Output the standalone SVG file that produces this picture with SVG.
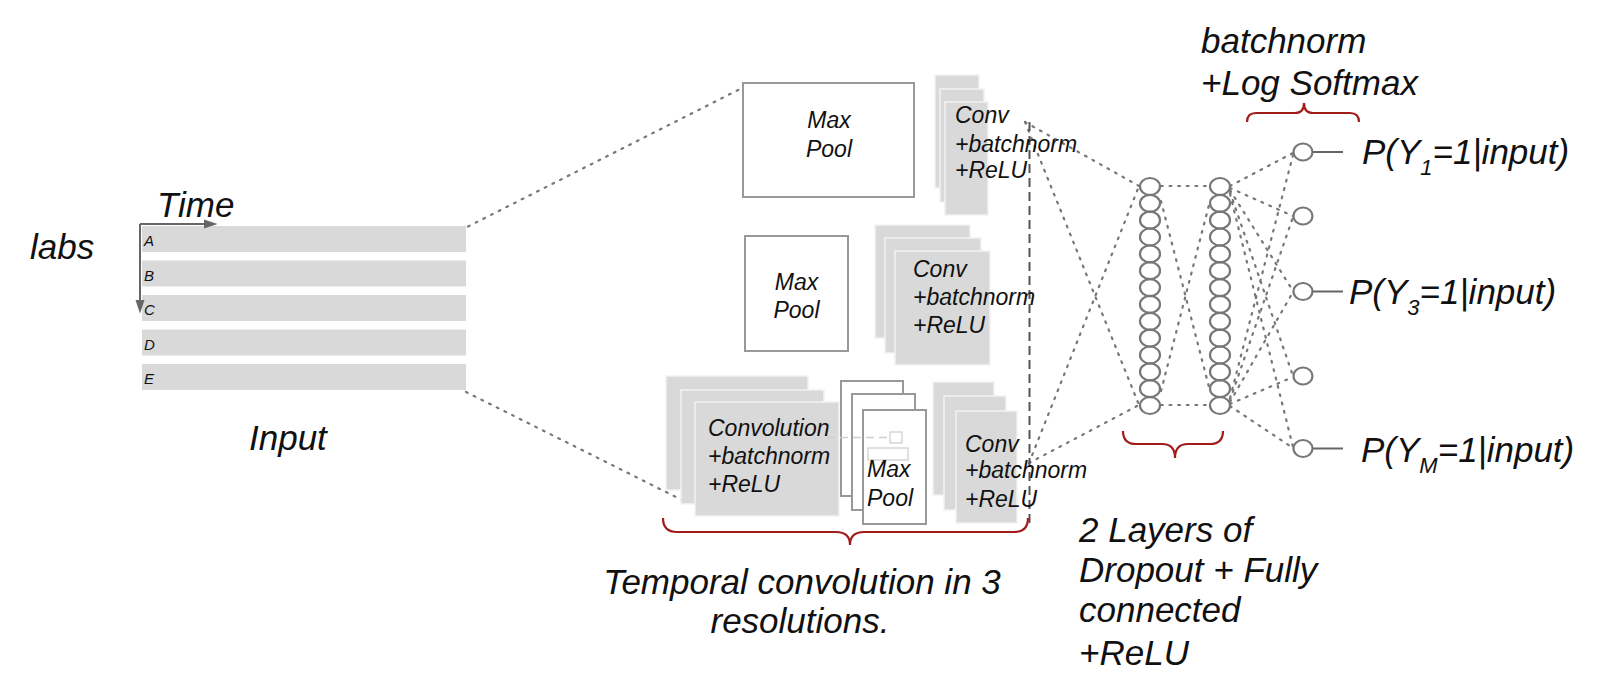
<svg xmlns="http://www.w3.org/2000/svg" width="1618" height="692" viewBox="0 0 1618 692">
<defs>
<style>
.t{font-family:"Liberation Sans",Arial,sans-serif;font-style:italic;fill:#111}
.big{font-size:35px}
.mid{font-size:23px}
.sm{font-size:15px}
.bar{fill:#d9d9d9}
.cv{fill:#d9d9d9;stroke:#f2f2f2;stroke-width:1.5}
.mp{fill:#fff;stroke:#999;stroke-width:2}
.dot{fill:none;stroke:#777;stroke-width:2.2;stroke-dasharray:1.8 6.8;stroke-linecap:round}
.nd{fill:none;stroke:#777;stroke-width:2.2}
.br{fill:none;stroke:#a31c1c;stroke-width:2.2}
.ax{stroke:#666;stroke-width:2;fill:none}
.faint{fill:none;stroke:#d6d6d6;stroke-width:1.5}
</style>
</defs>
<rect width="1618" height="692" fill="#fff"/>

<g id="connectors">
<line class="dot" x1="468" y1="226.5" x2="742" y2="88"/>
<line class="dot" x1="466" y1="392" x2="686" y2="502"/>
<line class="dot" x1="1025" y1="122" x2="1139" y2="186"/>
<line class="dot" x1="1025" y1="122" x2="1139" y2="405"/>
<line class="dot" x1="1029" y1="463" x2="1139" y2="186"/>
<line class="dot" x1="1029" y1="463" x2="1139" y2="405"/>
<line class="dot" x1="1161" y1="186" x2="1209" y2="186"/>
<line class="dot" x1="1161" y1="405" x2="1209" y2="405"/>
<line class="dot" x1="1161" y1="201" x2="1210" y2="391"/>
<line class="dot" x1="1161" y1="391" x2="1210" y2="201"/>
<g>
<line class="dot" x1="1230" y1="186" x2="1293" y2="153"/>
<line class="dot" x1="1230" y1="188" x2="1293" y2="216"/>
<line class="dot" x1="1230" y1="190" x2="1293" y2="291"/>
<line class="dot" x1="1230" y1="192" x2="1293" y2="376"/>
<line class="dot" x1="1230" y1="194" x2="1293" y2="447"/>
<line class="dot" x1="1230" y1="398" x2="1293" y2="155"/>
<line class="dot" x1="1230" y1="400" x2="1293" y2="217"/>
<line class="dot" x1="1230" y1="402" x2="1293" y2="292"/>
<line class="dot" x1="1230" y1="404" x2="1293" y2="377"/>
<line class="dot" x1="1230" y1="406" x2="1293" y2="448"/>
</g>
<line x1="1029.5" y1="122" x2="1029.5" y2="523" stroke="#555" stroke-width="2" stroke-dasharray="9 5"/>
</g>

<g id="input">
<rect class="bar" x="142" y="226" width="324" height="26"/>
<rect class="bar" x="142" y="260.5" width="324" height="26"/>
<rect class="bar" x="142" y="295" width="324" height="26"/>
<rect class="bar" x="142" y="329.5" width="324" height="26"/>
<rect class="bar" x="142" y="364" width="324" height="26"/>
<text class="t sm" x="144" y="246">A</text>
<text class="t sm" x="144" y="280.5">B</text>
<text class="t sm" x="144" y="315">C</text>
<text class="t sm" x="144" y="349.5">D</text>
<text class="t sm" x="144" y="384">E</text>
<line class="ax" x1="140" y1="224" x2="206" y2="224"/>
<polygon points="204,219.5 217.5,224 204,228.5" fill="#666"/>
<line class="ax" x1="140" y1="224" x2="140" y2="302"/>
<polygon points="135.5,300 144.5,300 140,313.5" fill="#666"/>
<text class="t big" x="30" y="259">labs</text>
<text class="t big" x="157" y="217">Time</text>
<text class="t big" x="249" y="450">Input</text>
</g>

<g id="maxpool-top">
<rect class="mp" x="743" y="83" width="171" height="114"/>
<text class="t mid" x="829" y="128" text-anchor="middle">Max</text>
<text class="t mid" x="829" y="157" text-anchor="middle">Pool</text>
</g>

<g id="conv-top">
<rect class="cv" x="935" y="75" width="44" height="113"/>
<rect class="cv" x="940" y="89" width="44" height="113"/>
<rect class="cv" x="945" y="102" width="43" height="113"/>
<text class="t mid" x="955" y="123">Conv</text>
<text class="t mid" x="955" y="152">+batchnorm</text>
<text class="t mid" x="955" y="178">+ReLU</text>
</g>

<g id="maxpool-mid">
<rect class="mp" x="745" y="236" width="103" height="115"/>
<text class="t mid" x="796.5" y="290" text-anchor="middle">Max</text>
<text class="t mid" x="796.5" y="318" text-anchor="middle">Pool</text>
</g>

<g id="conv-mid">
<rect class="cv" x="875" y="225" width="95" height="113"/>
<rect class="cv" x="885" y="238" width="96" height="115"/>
<rect class="cv" x="895" y="251" width="95" height="114"/>
<text class="t mid" x="913" y="277">Conv</text>
<text class="t mid" x="913" y="305">+batchnorm</text>
<text class="t mid" x="913" y="333">+ReLU</text>
</g>

<g id="conv-bottom">
<rect class="cv" x="666" y="376" width="142" height="114"/>
<rect class="cv" x="681" y="390" width="143" height="114"/>
<rect class="cv" x="695" y="402" width="144" height="114"/>
<rect class="faint" x="777" y="433" width="50" height="10" stroke="#ececec"/>
<text class="t mid" x="708" y="436">Convolution</text>
<text class="t mid" x="708" y="464">+batchnorm</text>
<text class="t mid" x="708" y="492">+ReLU</text>
</g>

<g id="maxpool-bottom">
<rect class="mp" x="841" y="381" width="62" height="115"/>
<rect class="mp" x="852" y="394" width="63" height="116"/>
<rect class="mp" x="863" y="410" width="63" height="114"/>
<line x1="827" y1="437.5" x2="890" y2="437.5" stroke="#d0d0d0" stroke-width="1.5" stroke-dasharray="8 5"/>
<rect class="faint" x="890" y="432" width="12" height="11" fill="#fff"/>
<rect class="faint" x="868" y="448" width="40" height="12" fill="#fff" stroke="#e0e0e0"/>
<text class="t mid" x="867" y="477">Max</text>
<text class="t mid" x="867" y="506">Pool</text>
</g>

<g id="conv-bottom-right">
<rect class="cv" x="933" y="382" width="61" height="113"/>
<rect class="cv" x="944" y="396" width="62" height="114"/>
<rect class="cv" x="956" y="411" width="61" height="112"/>
<text class="t mid" x="965" y="452">Conv</text>
<text class="t mid" x="965" y="478">+batchnorm</text>
<text class="t mid" x="965" y="507">+ReLU</text>
</g>

<g id="fc-layer1">
<ellipse class="nd" cx="1150" cy="186.5" rx="10" ry="8.5"/>
<ellipse class="nd" cx="1150" cy="203.3" rx="10" ry="8.5"/>
<ellipse class="nd" cx="1150" cy="220.2" rx="10" ry="8.5"/>
<ellipse class="nd" cx="1150" cy="237" rx="10" ry="8.5"/>
<ellipse class="nd" cx="1150" cy="253.9" rx="10" ry="8.5"/>
<ellipse class="nd" cx="1150" cy="270.7" rx="10" ry="8.5"/>
<ellipse class="nd" cx="1150" cy="287.6" rx="10" ry="8.5"/>
<ellipse class="nd" cx="1150" cy="304.4" rx="10" ry="8.5"/>
<ellipse class="nd" cx="1150" cy="321.3" rx="10" ry="8.5"/>
<ellipse class="nd" cx="1150" cy="338.1" rx="10" ry="8.5"/>
<ellipse class="nd" cx="1150" cy="355" rx="10" ry="8.5"/>
<ellipse class="nd" cx="1150" cy="371.8" rx="10" ry="8.5"/>
<ellipse class="nd" cx="1150" cy="388.7" rx="10" ry="8.5"/>
<ellipse class="nd" cx="1150" cy="405.5" rx="10" ry="8.5"/>
</g>

<g id="fc-layer2">
<ellipse class="nd" cx="1220" cy="186.5" rx="10" ry="8.5"/>
<ellipse class="nd" cx="1220" cy="203.3" rx="10" ry="8.5"/>
<ellipse class="nd" cx="1220" cy="220.2" rx="10" ry="8.5"/>
<ellipse class="nd" cx="1220" cy="237" rx="10" ry="8.5"/>
<ellipse class="nd" cx="1220" cy="253.9" rx="10" ry="8.5"/>
<ellipse class="nd" cx="1220" cy="270.7" rx="10" ry="8.5"/>
<ellipse class="nd" cx="1220" cy="287.6" rx="10" ry="8.5"/>
<ellipse class="nd" cx="1220" cy="304.4" rx="10" ry="8.5"/>
<ellipse class="nd" cx="1220" cy="321.3" rx="10" ry="8.5"/>
<ellipse class="nd" cx="1220" cy="338.1" rx="10" ry="8.5"/>
<ellipse class="nd" cx="1220" cy="355" rx="10" ry="8.5"/>
<ellipse class="nd" cx="1220" cy="371.8" rx="10" ry="8.5"/>
<ellipse class="nd" cx="1220" cy="388.7" rx="10" ry="8.5"/>
<ellipse class="nd" cx="1220" cy="405.5" rx="10" ry="8.5"/>
</g>

<g id="outputs">
<ellipse class="nd" cx="1303" cy="152" rx="9.5" ry="8.5" fill="#fff"/>
<ellipse class="nd" cx="1303" cy="216" rx="9.5" ry="8.5" fill="#fff"/>
<ellipse class="nd" cx="1303" cy="291.5" rx="9.5" ry="8.5" fill="#fff"/>
<ellipse class="nd" cx="1303" cy="376" rx="9.5" ry="8.5" fill="#fff"/>
<ellipse class="nd" cx="1303" cy="448.5" rx="9.5" ry="8.5" fill="#fff" stroke="#111"/>
<line x1="1312.5" y1="152" x2="1343" y2="152" stroke="#666" stroke-width="2"/>
<line x1="1312.5" y1="291.5" x2="1343" y2="291.5" stroke="#666" stroke-width="2"/>
<line x1="1312.5" y1="448.5" x2="1343" y2="448.5" stroke="#666" stroke-width="2"/>
<text class="t big" x="1362" y="164">P(Y<tspan font-size="22" dy="11">1</tspan><tspan dy="-11">=1|input)</tspan></text>
<text class="t big" x="1349" y="304">P(Y<tspan font-size="22" dy="11">3</tspan><tspan dy="-11">=1|input)</tspan></text>
<text class="t big" x="1361" y="462">P(Y<tspan font-size="22" dy="11">M</tspan><tspan dy="-11">=1|input)</tspan></text>
</g>

<g id="labels">
<path class="br" d="M663,518 Q663,532 677,532 L836,532 Q850,532 850,545 Q850,532 864,532 L1014,532 Q1028,532 1028,518"/>
<text class="t big" x="802" y="594" text-anchor="middle">Temporal convolution in 3</text>
<text class="t big" x="800" y="633" text-anchor="middle">resolutions.</text>
<path class="br" d="M1123,431 Q1123,444 1136,444 L1162,444 Q1175,444 1175,458 Q1175,444 1188,444 L1210,444 Q1223,444 1223,431"/>
<text class="t big" x="1079" y="542">2 Layers of</text>
<text class="t big" x="1079" y="582">Dropout + Fully</text>
<text class="t big" x="1079" y="622">connected</text>
<text class="t big" x="1079" y="665">+ReLU</text>
<path class="br" d="M1247,122 Q1247,113 1256,113 L1295,113 Q1304,113 1304,103 Q1304,113 1313,113 L1350,113 Q1359,113 1359,122"/>
<text class="t big" x="1201" y="53">batchnorm</text>
<text class="t big" x="1201" y="95">+Log Softmax</text>
</g>
</svg>
